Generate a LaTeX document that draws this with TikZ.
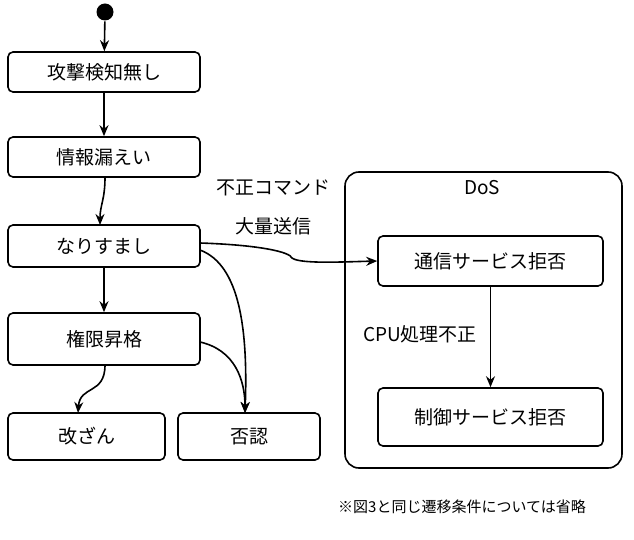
\documentclass[tikz,border=0pt]{standalone}
\usepackage{fontspec}
\setmainfont{Noto Sans CJK JP}
\usetikzlibrary{arrows.meta}
\begin{document}
\begin{tikzpicture}[x=1pt,y=-1pt,line width=1.6pt,
  st/.style={draw,rounded corners=5pt,font=\fontsize{19}{21}\selectfont},
  lb/.style={font=\fontsize{19}{21}\selectfont},
  ar/.style={-{Stealth[length=11pt,width=9pt]}}]
\useasboundingbox (0,0) rectangle (634,540);
\node[circle,fill,inner sep=0,minimum size=17pt] (s) at (105,12) {};
\node[st,minimum width=192pt,minimum height=40pt] (a) at (104,72) {攻撃検知無し};
\node[st,minimum width=192pt,minimum height=40pt] (b) at (104,157) {情報漏えい};
\node[st,minimum width=192pt,minimum height=42pt] (c) at (104,246) {なりすまし};
\node[st,minimum width=192pt,minimum height=52pt] (d) at (104,339) {権限昇格};
\node[st,minimum width=157pt,minimum height=47pt] (e) at (86.5,436.5) {改ざん};
\node[st,minimum width=142pt,minimum height=47pt] (f) at (249,436.5) {否認};
\draw[rounded corners=14pt] (345,172) rectangle (622,468);
\node[lb] (dos) at (482,188) {DoS};
\node[st,minimum width=225pt,minimum height=50pt] (g) at (490.5,261) {通信サービス拒否};
\node[st,minimum width=225pt,minimum height=58pt] (h) at (490.5,417) {制御サービス拒否};
\node[lb] (l1) at (273,188) {不正コマンド};
\node[lb] (l2) at (273,226) {大量送信};
\node[lb] (l3) at (420,334) {CPU処理不正};
\node[font=\fontsize{15}{17}\selectfont] (fn) at (462,507) {※図3と同じ遷移条件については省略};
\draw[ar] (s) -- (a);
\draw[ar] (a) -- (b);
\draw[ar] (105,177) .. controls (105,200) and (100,205) .. (100,225);
\draw[ar] (c) -- (d);
\draw[ar] (105,365) .. controls (105,395) and (80,385) .. (78,413);
\draw[ar] (200,250) .. controls (240,265) and (248,330) .. (245,413);
\draw[ar] (200,342) .. controls (235,350) and (245,380) .. (245,413);
\draw[ar] (200,243) .. controls (260,245) and (290,252) .. (292,258) .. controls (300,264) and (340,262) .. (g.west);
\draw[ar] (g) -- (h);
\end{tikzpicture}
\end{document}
